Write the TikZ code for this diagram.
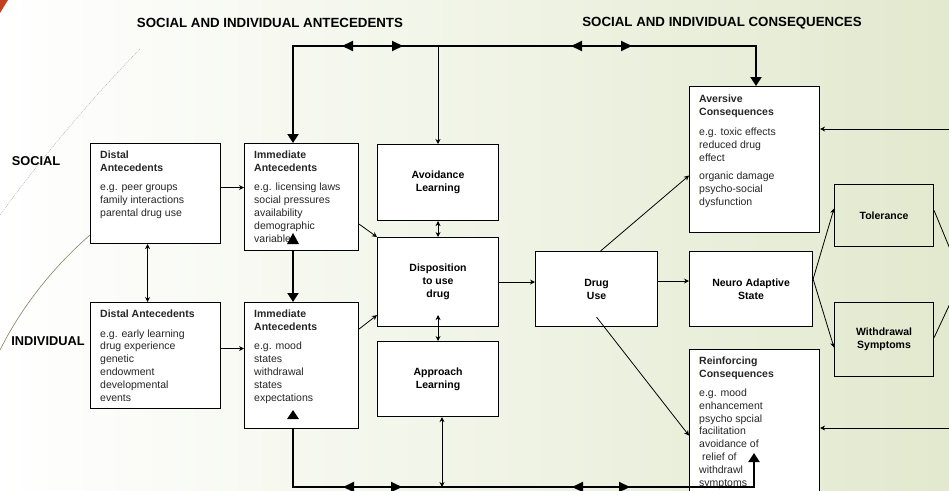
\documentclass[tikz,border=0pt]{standalone}
\usepackage{fontspec}
\setmainfont{Liberation Sans}
\usetikzlibrary{arrows.meta,calc}

\definecolor{bggreen}{RGB}{226,233,206}
\definecolor{tmplred}{RGB}{192,66,30}
\definecolor{tmplbrown}{RGB}{140,125,95}

\tikzset{
  box/.style={draw,fill=white,line width=1.1pt,inner sep=0pt,anchor=north west},
  openbox/.style={draw,line width=1.1pt,inner sep=0pt,anchor=north west},
  boxtext/.style={anchor=north west,align=left,inner sep=0pt,text=black!85,font=\fontsize{10.5}{12.8}\selectfont},
  ctext/.style={align=center,font=\bfseries\fontsize{10.5}{12.8}\selectfont},
  heading/.style={font=\bfseries\fontsize{13.3}{15}\selectfont},
  side/.style={font=\bfseries\fontsize{12.8}{15}\selectfont},
  con/.style={line width=0.8pt,-{Stealth[length=5pt,width=5pt]}},
  bicon/.style={line width=0.8pt,{Stealth[length=5pt,width=5pt]}-{Stealth[length=5pt,width=5pt]}},
  link/.style={line width=0.8pt},
  bus/.style={line width=2pt},
  busarr/.style={line width=2pt,-{Triangle[length=9pt,width=11pt]}},
  midtip/.style={line width=2pt,-{Triangle[length=11pt,width=10pt]}},
}

\begin{document}
\begin{tikzpicture}[x=1pt,y=-1pt]
  \useasboundingbox (0,0) rectangle (949,490);
  \clip (0,0) rectangle (949,490);
  \shade[left color=white,right color=bggreen] (0,0) rectangle (949,490);
  \fill[tmplred] (0,0) -- (8,0) -- (0,13) -- cycle;
  \draw[black!35,line width=0.4pt,dash pattern=on 1pt off 1pt] (140,49) .. controls (90,100) and (40,160) .. (0,215);
  \draw[tmplbrown,line width=0.6pt] (90,235) .. controls (50,270) and (20,310) .. (0,350);

  \node[heading] (hante) at (270,23) {SOCIAL AND INDIVIDUAL ANTECEDENTS};
  \node[heading] (hcons) at (722,23) {SOCIAL AND INDIVIDUAL CONSEQUENCES};
  \node[side] (lsoc) at (36,161) {SOCIAL};
  \node[side] (lind) at (48,341) {INDIVIDUAL};

  \node[box,minimum width=130,minimum height=100] (dsoc) at (90,143) {};
  \node[box,minimum width=114,minimum height=107] (isoc) at (244,143) {};
  \node[box,minimum width=130,minimum height=106] (dind) at (90,302) {};
  \node[box,minimum width=114,minimum height=126] (iind) at (244,302) {};
  \node[box,ctext,minimum width=121,minimum height=76] (avoid) at (377,144) {Avoidance\\Learning};
  \node[box,ctext,minimum width=121,minimum height=89] (disp) at (377,237) {Disposition\\to use\\drug};
  \node[box,ctext,minimum width=121,minimum height=75] (appr) at (377,341) {Approach\\Learning};
  \node[box,ctext,minimum width=122,minimum height=75] (druguse) at (535,251) {Drug\\Use};
  \node[box,minimum width=130,minimum height=146] (avers) at (689,86) {};
  \node[box,ctext,minimum width=123,minimum height=75] (neuro) at (689,251) {Neuro Adaptive\\State};
  \node[box,minimum width=130,minimum height=151] (reinf) at (689,349) {};
  \node[openbox,ctext,minimum width=99,minimum height=62] (toler) at (834,184) {Tolerance};
  \node[openbox,ctext,minimum width=99,minimum height=74] (withd) at (834,302) {Withdrawal\\Symptoms};

  \node[boxtext] (dsoc-t) at ([shift={(10,7.5)}]dsoc.north west) {\textbf{Distal}\\\textbf{Antecedents}\\[7pt]e.g. peer groups\\family interactions\\parental drug use};
  \node[boxtext] (isoc-t) at ([shift={(10,7.5)}]isoc.north west) {\textbf{Immediate}\\\textbf{Antecedents}\\[7pt]e.g. licensing laws\\social pressures\\availability\\demographic\\variables};
  \node[boxtext] (dind-t) at ([shift={(10,7.5)}]dind.north west) {\textbf{Distal Antecedents}\\[7pt]e.g. early learning\\drug experience\\genetic\\endowment\\developmental\\events};
  \node[boxtext] (iind-t) at ([shift={(10,7.5)}]iind.north west) {\textbf{Immediate}\\\textbf{Antecedents}\\[7pt]e.g. mood\\states\\withdrawal\\states\\expectations};
  \node[boxtext] (avers-t) at ([shift={(10,9)}]avers.north west) {\textbf{Aversive}\\\textbf{Consequences}\\[7pt]e.g. toxic effects\\reduced drug\\effect\\[6pt]organic damage\\psycho-social\\dysfunction};
  \node[boxtext] (reinf-t) at ([shift={(10,8)}]reinf.north west) {\textbf{Reinforcing}\\\textbf{Consequences}\\[6pt]e.g. mood\\enhancement\\psycho spcial\\facilitation\\avoidance of\\\ relief of\\withdrawl\\symptoms};

  \coordinate (tl) at (293,46);
  \coordinate (tm) at (438,46);
  \coordinate (tr) at (756,46);
  \coordinate (bl) at (293,487);
  \coordinate (bm) at (442,487);
  \coordinate (br) at (754,487);
  \coordinate (nfork) at ([yshift=10pt]neuro.east);
  \coordinate (rhub) at (962,278);
  \coordinate (rtop) at (962,129);
  \coordinate (rbot) at (962,428);

  \draw[busarr] (tr) -- (tl) -- (tl |- isoc.north);
  \draw[busarr] (tl) -- (tr) -- (tr |- avers.north);
  \foreach \a/\b in {355/342,390/403,585/571,620/632}
    \draw[midtip] (\a,46) -- (\b,46);
  \draw[con] (tm) -- (tm |- avoid.north);
  \draw[busarr] (iind.south -| bl) -- (bl) -- (br) -- ++(0,-34);
  \foreach \a/\b in {356/343,389/402,585/572,617/630}
    \draw[midtip] (\a,487) -- (\b,487);
  \draw[bicon] (bm) -- (bm |- appr.south);
  \draw[busarr] (isoc.south -| tl) -- (iind.north -| tl);
  \fill (287,244) -- (299,244) -- (293,233) -- cycle;
  \fill (287,419) -- (299,419) -- (293,410) -- cycle;

  \draw[bicon] ([xshift=-8pt]dsoc.south) -- ([xshift=-8pt]dind.north);
  \draw[con] ([yshift=6pt]dsoc.east) -- ([yshift=6pt]dsoc.east -| isoc.west);
  \draw[con] ([yshift=7pt]dind.east) -- ([yshift=7pt]dind.east -| iind.west);
  \draw[con] ([yshift=27pt]isoc.south east) -- (disp.north west);
  \draw[con] ([yshift=-27pt]iind.north east) -- ([yshift=12pt]disp.south west);
  \draw[bicon] (avoid.south) -- (disp.north);
  \draw[bicon] ([yshift=12pt]disp.south) -- (appr.north);
  \draw[con] (disp.east) -- (disp.east -| druguse.west);
  \draw[con] ([yshift=8pt]druguse.east) -- ([yshift=8pt]neuro.west);
  \draw[con] ([xshift=4pt]druguse.north) -- ([yshift=-16pt]avers.west);
  \draw[con] ([yshift=10pt]druguse.south) -- ([yshift=-10.5pt]reinf.west);
  \draw[con] (nfork) -- ([yshift=7pt]toler.west);
  \draw[con] (nfork) -- ([yshift=-8pt]withd.west);
  \draw[link] ([yshift=5pt]toler.east) -- (rhub) -- ([yshift=2pt]withd.east);
  \draw[con] (rtop) -- (rtop -| avers.east);
  \draw[con] (rbot) -- (rbot -| reinf.east);
\end{tikzpicture}
\end{document}
